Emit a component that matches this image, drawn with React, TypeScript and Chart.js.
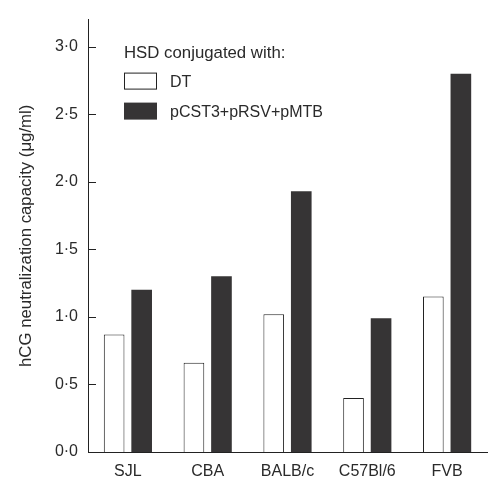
import React, { useEffect, useRef } from "react";
import { Chart, registerables } from "chart.js";

Chart.register(...registerables);

const strains = ["SJL", "CBA", "BALB/c", "C57Bl/6", "FVB"];
const dtValues = [0.87, 0.66, 1.02, 0.4, 1.15];
const pcstValues = [1.2, 1.3, 1.93, 0.99, 2.8];
const seriesLabels = ["DT", "pCST3+pRSV+pMTB"];
const legendTitle = "HSD conjugated with:";
const yTitle = "hCG neutralization capacity (\u03bcg/ml)";
const yTicks = [0, 0.5, 1, 1.5, 2, 2.5, 3];

const FONT = '"Liberation Sans", Arial, Helvetica, sans-serif';
const TEXT = "#2a2a2a";
const AXIS = "#222222";
const DARK = "#363435";

const insideTicksPlugin = {
  id: "insideTicks",
  afterDraw(chart: any) {
    const { ctx, chartArea } = chart;
    const y = chart.scales.y;
    ctx.save();
    ctx.strokeStyle = AXIS;
    ctx.lineWidth = 1;
    y.ticks.forEach((t: any) => {
      const py = Math.round(y.getPixelForValue(t.value)) + 0.5;
      ctx.beginPath();
      ctx.moveTo(chartArea.left, py);
      ctx.lineTo(chartArea.left + 8, py);
      ctx.stroke();
    });
    ctx.restore();
  },
};

const legendPlugin = {
  id: "customLegend",
  afterDraw(chart: any) {
    const { ctx, chartArea } = chart;
    const x0 = chartArea.left + 36;
    const top = chartArea.top;
    ctx.save();
    ctx.fillStyle = TEXT;
    ctx.textBaseline = "alphabetic";
    ctx.textAlign = "left";
    ctx.font = `16.8px ${FONT}`;
    ctx.fillText(legendTitle, x0, top + 38);
    ctx.font = `16px ${FONT}`;
    chart.data.datasets.forEach((ds: any, i: number) => {
      const by = top + 53 + i * 30;
      ctx.fillStyle = ds.backgroundColor;
      ctx.fillRect(x0, by, 33, 17);
      if (ds.borderWidth) {
        ctx.strokeStyle = ds.borderColor;
        ctx.lineWidth = 1;
        ctx.strokeRect(x0 + 0.5, by + 0.5, 32, 16);
      }
      ctx.fillStyle = TEXT;
      ctx.fillText(ds.label, chartArea.left + 82, by + 14);
    });
    ctx.restore();
  },
};

export default function App() {
  const ref = useRef<HTMLCanvasElement>(null);

  useEffect(() => {
    if (!ref.current) return;
    Chart.defaults.font.family = FONT;
    Chart.defaults.color = TEXT;
    const chart = new Chart(ref.current, {
      type: "bar",
      data: {
        labels: strains,
        datasets: [
          {
            label: seriesLabels[0],
            data: dtValues,
            backgroundColor: "#ffffff",
            borderColor: AXIS,
            borderWidth: 1,
            borderSkipped: "start",
          },
          {
            label: seriesLabels[1],
            data: pcstValues,
            backgroundColor: DARK,
            borderWidth: 0,
          },
        ],
      },
      options: {
        animation: false,
        responsive: true,
        maintainAspectRatio: false,
        layout: { padding: { top: 19, right: 6, bottom: 0, left: 0 } },
        datasets: {
          bar: { categoryPercentage: 0.69, barPercentage: 0.75 },
        },
        plugins: {
          legend: { display: false },
          tooltip: { enabled: false },
        },
        scales: {
          x: {
            grid: { display: false, drawTicks: false },
            border: { display: true, color: AXIS, width: 1 },
            ticks: { padding: 10, font: { size: 16 }, color: TEXT },
            afterFit(scale: any) {
              scale.height = 34;
            },
          },
          y: {
            min: 0,
            max: 3.2,
            grid: { display: false, drawTicks: false },
            border: { display: true, color: AXIS, width: 1 },
            afterBuildTicks(scale: any) {
              scale.ticks = yTicks.map((v) => ({ value: v }));
            },
            ticks: {
              padding: 10,
              font: { size: 16 },
              color: TEXT,
              callback: (v: any) => Number(v).toFixed(1).replace(".", "\u00b7"),
            },
            title: {
              display: true,
              text: yTitle,
              font: { size: 16.8 },
              color: TEXT,
              padding: { top: 16, bottom: 0 },
            },
            afterFit(scale: any) {
              scale.width = 88;
            },
          },
        },
      },
      plugins: [insideTicksPlugin, legendPlugin],
    });
    return () => chart.destroy();
  }, []);

  return (
    <div style={{ position: "fixed", left: 0, top: 0, width: 493, height: 486, background: "#fff" }}>
      <canvas ref={ref} />
    </div>
  );
}
